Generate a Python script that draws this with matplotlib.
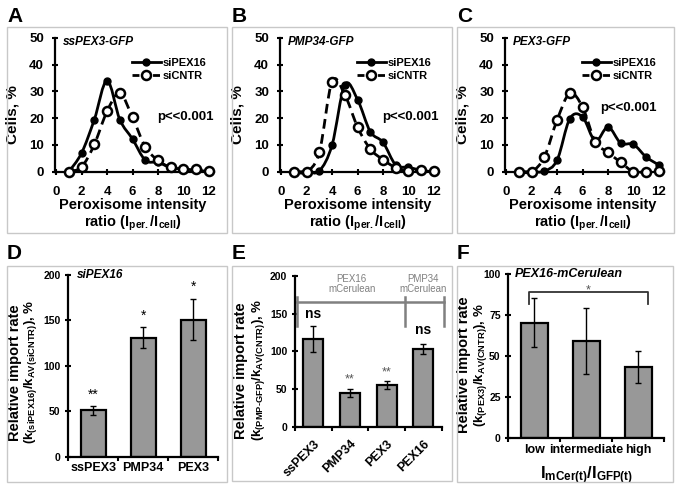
import numpy as np
import matplotlib
matplotlib.use('Agg')
import matplotlib.pyplot as plt
from matplotlib.path import Path
from matplotlib.patches import PathPatch, Rectangle
from matplotlib.lines import Line2D

plt.rcParams['font.family'] = ['Liberation Sans', 'DejaVu Sans']
plt.rcParams['font.weight'] = 'bold'
plt.rcParams['mathtext.fontset'] = 'custom'
plt.rcParams['mathtext.rm'] = 'Liberation Sans:bold'
plt.rcParams['mathtext.it'] = 'Liberation Sans:bold:italic'
plt.rcParams['mathtext.bf'] = 'Liberation Sans:bold'
plt.rcParams['mathtext.default'] = 'rm'

# distributions (A-C)
ratio = np.arange(1, 13)
a_pex16 = [0, 7.0, 19.5, 34.1, 19.5, 12.2, 4.3, 3.5, 1.5, 1.0, 0.6, 0]
a_cntr = [0, 1.8, 10.2, 22.6, 29.4, 20.3, 9.3, 4.2, 1.6, 1.1, 0.9, 0.2]
b_pex16 = [0, 0, 0.3, 10.0, 32.5, 27.0, 15.0, 11.0, 2.5, 1.7, 0.5, 0]
b_cntr = [0, 0, 7.3, 33.7, 28.8, 16.7, 8.5, 4.5, 1.5, 0.3, 0.5, 0.2]
c_pex16 = [0, 0, 0.2, 4.3, 19.8, 20.5, 11.5, 16.7, 10.7, 10.2, 5.5, 2.5]
c_cntr = [0, 0, 5.5, 19.3, 29.3, 24.2, 11.2, 7.2, 3.5, 0, 0, 0.2]

# import rates (D-F)
d_labels = ['ssPEX3', 'PMP34', 'PEX3']
d_vals = [51, 131, 151]
d_err = [5, 11.5, 23]
d_stars = ['**', '*', '*']

e_labels = ['ssPEX3', 'PMP34', 'PEX3', 'PEX16']
e_vals = [116, 45, 55, 103]
e_err = [17, 5.5, 5, 6.5]

f_labels = ['low', 'intermediate', 'high']
f_vals = [70.5, 59.5, 43.5]
f_err = [15, 20, 10]

W, H = 678, 490
fig = plt.figure(figsize=(6.78, 4.90), dpi=100)


def box(l, t, r, b):
    # pixel box -> figure fraction
    return [l / W, 1 - b / H, (r - l) / W, (b - t) / H]


def smooth_path(x, y):
    x = np.asarray(x, float)
    y = np.asarray(y, float)
    n = len(x)
    verts = [(x[0], y[0])]
    codes = [Path.MOVETO]
    for i in range(n - 1):
        p0 = max(i - 1, 0)
        p3 = min(i + 2, n - 1)
        c1 = (x[i] + (x[i + 1] - x[p0]) / 6, y[i] + (y[i + 1] - y[p0]) / 6)
        c2 = (x[i + 1] - (x[p3] - x[i]) / 6, y[i + 1] - (y[p3] - y[i]) / 6)
        verts += [c1, c2, (x[i + 1], y[i + 1])]
        codes += [Path.CURVE4] * 3
    return Path(verts, codes)


DASH = (0, (3.5, 2))


def hist_panel(rect, pex16, cntr, name, p_pos):
    ax = fig.add_axes(rect)
    ax.add_patch(PathPatch(smooth_path(ratio, cntr), fill=False, lw=2,
                           ls=DASH, ec='k', clip_on=False))
    ax.add_patch(PathPatch(smooth_path(ratio, pex16), fill=False, lw=2,
                           ec='k', clip_on=False))
    ax.plot(ratio, pex16, 'o', ms=5, color='k', zorder=3, clip_on=False)
    ax.plot(ratio, cntr, 'o', ms=6.5, mfc='white', mec='k', mew=1.8,
            zorder=4, clip_on=False)
    ax.set_xlim(-0.13, 12.4)
    ax.set_ylim(0, 50)
    ax.set_xticks(range(0, 13, 2))
    ax.set_yticks(range(0, 51, 10))
    for s in ['top', 'right']:
        ax.spines[s].set_visible(False)
    for s in ['left', 'bottom']:
        ax.spines[s].set_linewidth(1.6)
    ax.tick_params(axis='y', direction='inout', length=5, width=1.5,
                   labelsize=9.5, pad=5)
    ax.tick_params(axis='x', direction='inout', length=5, width=1.5,
                   labelsize=9.5, pad=8)
    ax.set_ylabel('Cells, %', fontsize=11, fontweight='bold')
    ax.yaxis.set_label_coords(-0.22, 0.43)
    ax.set_xlabel('Peroxisome intensity\nratio (I$_{per.}$/I$_{cell}$)',
                  fontsize=10.5, fontweight='bold', linespacing=1.1)
    ax.xaxis.set_label_coords(0.49, -0.2)
    ax.text(0.05, 0.97, name, transform=ax.transAxes, fontsize=8.5,
            fontstyle='italic', fontweight='bold', va='center', ha='left')
    ax.text(p_pos[0], p_pos[1], 'p<<0.001', transform=ax.transAxes,
            fontsize=9.5, fontweight='bold', va='center', ha='left')
    h1 = Line2D([], [], color='k', lw=2, marker='o', ms=5)
    h2 = Line2D([], [], color='k', lw=2, ls=(0, (2.5, 1.2)), marker='o',
                ms=6.5, mfc='white', mew=1.8)
    ax.legend([h1, h2], ['siPEX16', 'siCNTR'], loc='upper right',
              bbox_to_anchor=(1.0, 0.91), frameon=False, fontsize=8,
              handlelength=2.6, handletextpad=0.15, labelspacing=0.3,
              borderpad=0.2, numpoints=1)
    return ax


hist_panel(box(54.5, 38, 214, 171.7), a_pex16, a_cntr, 'ssPEX3-GFP', (0.643, 0.41))
hist_panel(box(279.5, 38, 439, 171.7), b_pex16, b_cntr, 'PMP34-GFP', (0.643, 0.41))
hist_panel(box(504.5, 38, 664, 171.7), c_pex16, c_cntr, 'PEX3-GFP', (0.60, 0.476))


def bar_panel(rect, labels, vals, errs, ymax, step, xlim, width):
    ax = fig.add_axes(rect)
    pos = np.arange(len(vals))
    ax.bar(pos, vals, width=width, color='#989898', edgecolor='k',
           linewidth=1.6, yerr=errs,
           error_kw=dict(ecolor='k', elinewidth=1, capsize=2.5, capthick=1),
           zorder=2)
    ax.set_xlim(*xlim)
    ax.set_ylim(0, ymax)
    ax.set_yticks(np.arange(0, ymax + 1, step))
    ax.set_xticks(pos)
    ax.set_xticks(np.arange(-0.5, len(vals), 1), minor=True)
    for s in ['top', 'right']:
        ax.spines[s].set_visible(False)
    for s in ['left', 'bottom']:
        ax.spines[s].set_linewidth(1.6)
    ax.tick_params(axis='y', direction='inout', length=5, width=1.5,
                   labelsize=7.5, pad=3)
    ax.tick_params(axis='x', which='major', length=0, labelsize=9, pad=4)
    ax.tick_params(axis='x', which='minor', direction='out', length=3,
                   width=1.5)
    return ax


def two_line_ylabel(ax, x1, x2, y, sub):
    ax.text(x1, y, 'Relative import rate', transform=ax.transAxes,
            rotation=90, fontsize=10.5, fontweight='bold', ha='center',
            va='center')
    ax.text(x2, y, sub, transform=ax.transAxes, rotation=90, fontsize=9.5,
            ha='center', va='center')


# D
axd = bar_panel(box(68.3, 275, 218, 456.7), d_labels, d_vals, d_err, 200, 50,
                (-0.45, 2.45), 0.5)
axd.set_xticklabels(d_labels)
two_line_ylabel(axd, -0.356, -0.25, 0.465,
                '(k$_{(siPEX16)}$/k$_{AV(siCNTR)}$), %')
axd.text(0.06, 1.0, 'siPEX16', transform=axd.transAxes, fontsize=8.5,
         fontstyle='italic', fontweight='bold', va='center', ha='left')
for i, (v, e, s) in enumerate(zip(d_vals, d_err, d_stars)):
    axd.text(i, v + e + 5, s, ha='center', va='bottom', fontsize=10,
             fontweight='normal')

# E
axe = bar_panel(box(295, 276, 441.7, 426.7), e_labels, e_vals, e_err, 200, 50,
                (-0.46, 3.5), 0.54)
axe.set_xticklabels(e_labels, rotation=45, ha='right', rotation_mode='anchor')
axe.tick_params(axis='x', which='major', pad=8)
two_line_ylabel(axe, -0.368, -0.25, 0.375,
                '(k$_{(PMP\u2010GFP)}$/k$_{AV(CNTR)}$), %')
gray = '#808080'
axe.plot([-0.45, 3.55], [166, 166], color=gray, lw=1.8, clip_on=False)
for xb in [-0.45, 2.5, 3.55]:
    axe.plot([xb, xb], [172, 133], color=gray, lw=1.8, clip_on=False)
axe.text(1.05, 190, 'PEX16\nmCerulean', color=gray, fontsize=7,
         fontweight='normal', ha='center', va='center', linespacing=1.0)
axe.text(3.0, 190, 'PMP34\nmCerulean', color=gray, fontsize=7,
         fontweight='normal', ha='center', va='center', linespacing=1.0)
axe.text(0, 150, 'ns', fontsize=10, ha='center', va='center')
axe.text(3, 128, 'ns', fontsize=10, ha='center', va='center')
axe.text(1, 63, '**', fontsize=9, color='#555555', fontweight='normal',
         ha='center', va='center')
axe.text(2, 72, '**', fontsize=9, color='#555555', fontweight='normal',
         ha='center', va='center')

# F
axf = bar_panel(box(508.3, 274.3, 664.3, 438.3), f_labels, f_vals, f_err, 100,
                25, (-0.5, 2.5), 0.52)
axf.set_xticklabels(f_labels, fontsize=9)
two_line_ylabel(axf, -0.285, -0.178, 0.447,
                '(k$_{(PEX3)}$/k$_{AV(CNTR)}$), %')
axf.set_xlabel('I$_{mCer(t)}$/I$_{GFP(t)}$', fontsize=12, fontweight='bold',
               labelpad=6)
axf.text(0.04, 1.0, 'PEX16-mCerulean', transform=axf.transAxes, fontsize=9,
         fontstyle='italic', fontweight='bold', va='center', ha='left')
axf.plot([-0.1, -0.1, 2.18, 2.18], [82, 89, 89, 82], color='#333333', lw=1.3,
         clip_on=False)
axf.text(1.04, 90.2, '*', fontsize=9, color='#555555', fontweight='normal',
         ha='center', va='center')

# panel frames and letters
frames = [(6.7, 26.7, 226.7, 233.3), (232, 26.7, 451.7, 233.3),
          (457.3, 26.7, 674, 233.3), (7.3, 265.7, 226.7, 481.7),
          (231.7, 265.7, 451.7, 480.5), (457.3, 265.7, 673.3, 481.7)]
for (l, t, r, b) in frames:
    fig.add_artist(Rectangle((l / W, 1 - b / H), (r - l) / W, (b - t) / H,
                             transform=fig.transFigure, fill=False,
                             ec='#c8c8c8', lw=1))
letters = [('A', 7, 16.5), ('B', 232, 16.5), ('C', 457, 16.5),
           ('D', 7, 253.5), ('E', 232, 253.5), ('F', 457, 253.5)]
for s, x, y in letters:
    fig.text(x / W, 1 - y / H, s, fontsize=15, fontweight='bold',
             ha='left', va='center')

fig.savefig('out.png', dpi=100)
